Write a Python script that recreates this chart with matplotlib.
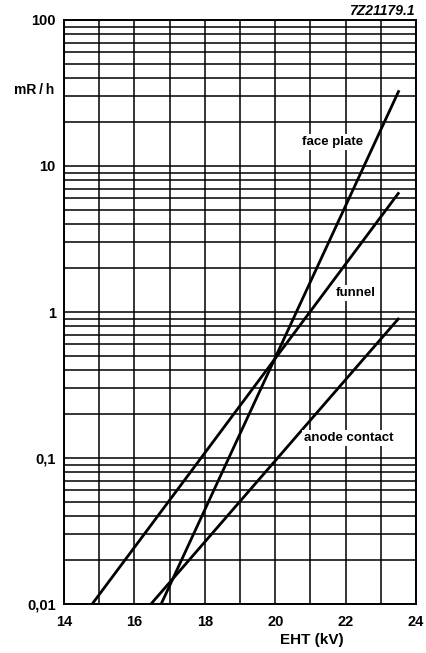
import numpy as np
import matplotlib
matplotlib.use('Agg')
import matplotlib.pyplot as plt
from matplotlib.ticker import FixedLocator, FixedFormatter, LogLocator, NullFormatter

plt.rcParams['font.family'] = ['Liberation Sans', 'DejaVu Sans']

# end points of the straight lines on the log scale: EHT (kV), dose rate (mR/h)
face_eht = [16.76, 23.52]
face_dose = [0.01, 33.0]
funnel_eht = [14.80, 23.52]
funnel_dose = [0.01, 6.6]
anode_eht = [16.47, 23.52]
anode_dose = [0.01, 0.91]

x_ticks = [14, 16, 18, 20, 22, 24]
y_ticks = [0.01, 0.1, 1, 10, 100]
y_labels = ['0,01', '0,1', '1', '10', '100']

fig = plt.figure(figsize=(4.27, 6.53), dpi=100)
ax = fig.add_axes([0.1499, 0.0750, 0.8243, 0.8944])

ax.set_yscale('log')
ax.set_xlim(14, 24)
ax.set_ylim(0.01, 100)

# grid: every kV, every 1..9 of a decade
ax.xaxis.set_major_locator(FixedLocator(x_ticks))
ax.xaxis.set_minor_locator(FixedLocator(np.arange(14, 25, 1)))
ax.yaxis.set_major_locator(FixedLocator(y_ticks))
ax.yaxis.set_major_formatter(FixedFormatter(y_labels))
ax.yaxis.set_minor_locator(LogLocator(base=10, subs=np.arange(2, 10), numticks=20))
ax.yaxis.set_minor_formatter(NullFormatter())
ax.grid(True, which='both', color='black', linewidth=1.1)
ax.tick_params(which='both', length=0)
ax.tick_params(axis='y', pad=6, labelsize=10.5)
ax.tick_params(axis='x', pad=8, labelsize=10.5)
for lab in ax.get_xticklabels() + ax.get_yticklabels():
    lab.set_fontweight('bold')
for sp in ax.spines.values():
    sp.set_linewidth(1.4)

ax.plot(face_eht, face_dose, color='black', lw=2.0, solid_capstyle='butt')
ax.plot(funnel_eht, funnel_dose, color='black', lw=2.0, solid_capstyle='butt')
ax.plot(anode_eht, anode_dose, color='black', lw=2.0, solid_capstyle='butt')

box = dict(facecolor='white', edgecolor='none', pad=1.5)
ax.text(21.64, 14.6, 'face plate', ha='center', va='center', fontsize=9.5, fontweight='bold', bbox=box)
ax.text(22.3, 1.35, 'funnel', ha='center', va='center', fontsize=9.5, fontweight='bold', bbox=box)
ax.text(22.1, 0.137, 'anode contact', ha='center', va='center', fontsize=9.5, fontweight='bold', bbox=box)

fig.text(34 / 427, 1 - 90 / 653, 'mR\u2009/\u2009h', ha='center', va='center', fontsize=10, fontweight='bold')
fig.text(312 / 427, 1 - 640 / 653, 'EHT (kV)', ha='center', va='center', fontsize=11, fontweight='bold')
fig.text(415 / 427, 1 - 11 / 653, '7Z21179.1', ha='right', va='center', fontsize=10,
         fontweight='bold', fontstyle='italic')

fig.savefig('out.png', dpi=100)
